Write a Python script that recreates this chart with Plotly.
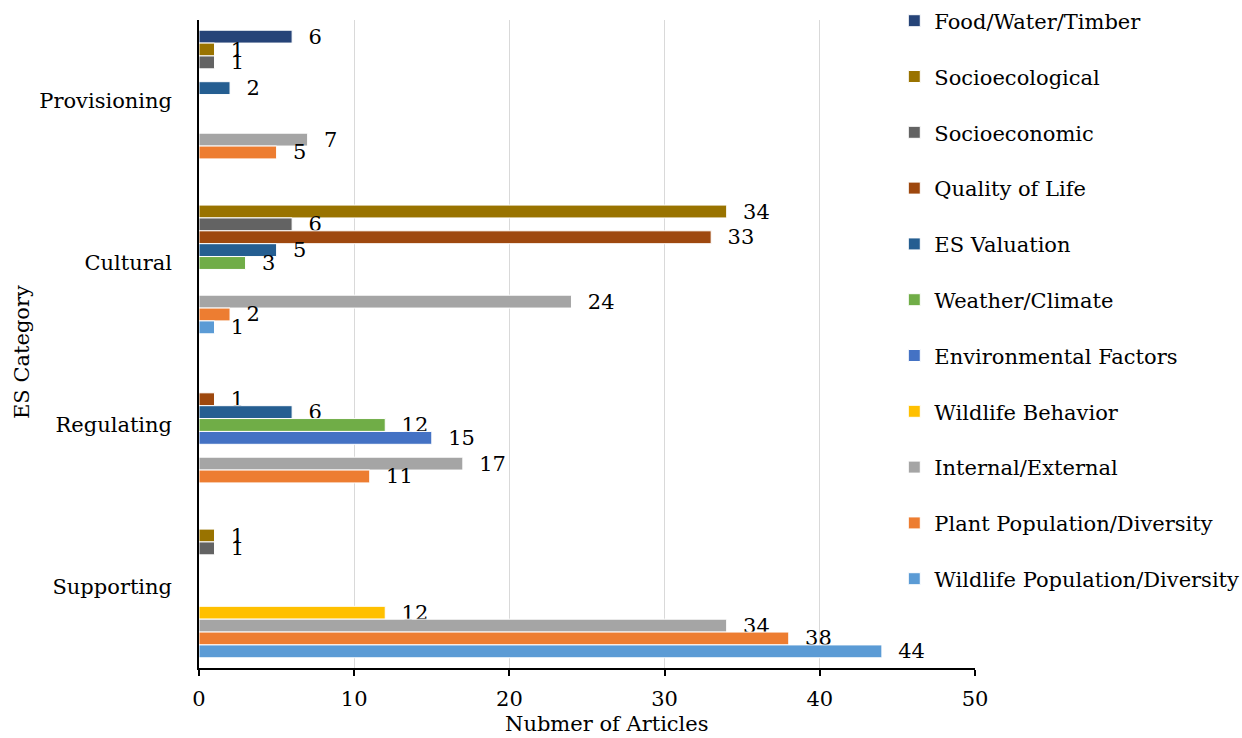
import plotly.graph_objects as go

# ES categories, top to bottom as shown on the chart
categories = ["Provisioning", "Cultural", "Regulating", "Supporting"]

# Article counts per theme, in the order of `categories`
series_names = [
    "Food/Water/Timber",
    "Socioecological",
    "Socioeconomic",
    "Quality of Life",
    "ES Valuation",
    "Weather/Climate",
    "Environmental Factors",
    "Wildlife Behavior",
    "Internal/External",
    "Plant Population/Diversity",
    "Wildlife Population/Diversity",
]
food_water_timber = [6, 0, 0, 0]
socioecological = [1, 34, 0, 1]
socioeconomic = [1, 6, 0, 1]
quality_of_life = [0, 33, 1, 0]
es_valuation = [2, 5, 6, 0]
weather_climate = [0, 3, 12, 0]
environmental_factors = [0, 0, 15, 0]
wildlife_behavior = [0, 0, 0, 12]
internal_external = [7, 24, 17, 34]
plant_population = [5, 2, 11, 38]
wildlife_population = [0, 1, 0, 44]

series_values = [
    food_water_timber, socioecological, socioeconomic, quality_of_life,
    es_valuation, weather_climate, environmental_factors, wildlife_behavior,
    internal_external, plant_population, wildlife_population,
]
series_colors = [
    "#264478", "#997300", "#636363", "#9E480E", "#255E91", "#70AD47",
    "#4472C4", "#FFC000", "#A5A5A5", "#ED7D31", "#5B9BD5",
]

x_ticks = [0, 10, 20, 30, 40, 50]

FONT = "DejaVu Serif"
FS = 21

fig = go.Figure()
# The y axis runs top-down, so the first trace is the top bar of each group.
for rank, (name, vals, color) in enumerate(zip(series_names, series_values, series_colors)):
    fig.add_trace(go.Bar(
        name=name,
        y=categories,
        x=vals,
        orientation="h",
        marker=dict(color=color, line=dict(color="white", width=1)),
        text=["\u00a0\u00a0" + str(v) if v else "" for v in vals],
        textposition="outside",
        constraintext="none",
        cliponaxis=False,
        textfont=dict(family=FONT, size=FS, color="black"),
        legendgroup=name,
        legendrank=rank + 1,
        hoverinfo="x+name",
    ))

fig.update_layout(
    width=1242,
    height=738,
    margin=dict(l=199, r=267, t=20, b=70, autoexpand=False),
    paper_bgcolor="white",
    plot_bgcolor="white",
    barmode="group",
    bargap=0.126,
    bargroupgap=0,
    font=dict(family=FONT, size=FS, color="black"),
    showlegend=True,
    legend=dict(
        x=0.8960, y=1.030, xanchor="left", yanchor="top",
        traceorder="grouped",
        tracegroupgap=25.5,
        itemwidth=30,
        maxheight=1,
        font=dict(family=FONT, size=FS, color="black"),
        bgcolor="rgba(0,0,0,0)",
    ),
    xaxis=dict(
        range=[0, 50],
        tickvals=x_ticks,
        ticktext=[str(t) for t in x_ticks],
        showgrid=True,
        gridcolor="#D9D9D9",
        gridwidth=1.3,
        zeroline=False,
        showline=True,
        linecolor="black",
        linewidth=1.5,
        ticks="outside",
        ticklen=6,
        tickwidth=1.5,
        tickcolor="black",
        ticklabelstandoff=5,
        tickfont=dict(family=FONT, size=FS, color="black"),
        automargin=False,
    ),
    yaxis=dict(
        type="category",
        categoryorder="array",
        categoryarray=categories,
        autorange="reversed",
        showgrid=False,
        zeroline=False,
        showline=True,
        linecolor="black",
        linewidth=1.5,
        ticks="",
        ticklabelstandoff=21,
        tickfont=dict(family=FONT, size=FS, color="black"),
        automargin=False,
    ),
    annotations=[
        dict(
            text="Nubmer of Articles",
            xref="paper", yref="paper",
            x=0.5264, y=0, yshift=-42,
            xanchor="center", yanchor="top",
            showarrow=False,
            font=dict(family=FONT, size=FS, color="black"),
        ),
        dict(
            text="ES Category",
            xref="paper", yref="paper",
            x=-0.2281, y=0.4877,
            xanchor="center", yanchor="middle",
            textangle=-90,
            showarrow=False,
            font=dict(family=FONT, size=FS, color="black"),
        ),
    ],
)

fig.write_html("out.html")
